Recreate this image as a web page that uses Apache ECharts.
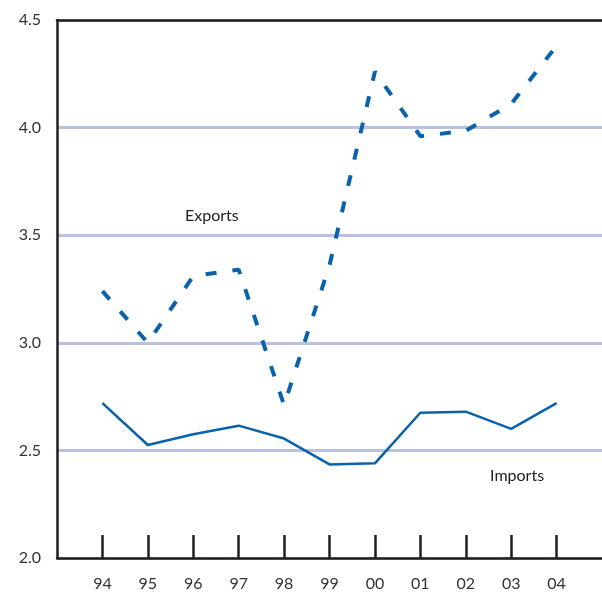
<!DOCTYPE html>
<html>
<head>
<meta charset="utf-8">
<script src="https://cdn.jsdelivr.net/npm/echarts@6/dist/echarts.min.js"></script>
<style>html,body{margin:0;padding:0;background:#fff}#c{width:602px;height:596px}</style>
</head>
<body>
<div id="c"></div>
<script>
const categories = ['94','95','96','97','98','99','00','01','02','03','04'];
const exportsVals = [3.24, 3.00, 3.31, 3.34, 2.71, 3.36, 4.26, 3.96, 3.985, 4.11, 4.38];
const importsVals = [2.72, 2.525, 2.575, 2.615, 2.555, 2.435, 2.44, 2.675, 2.68, 2.60, 2.72];
const yTicks = [2.0, 2.5, 3.0, 3.5, 4.0, 4.5];
const seriesLabels = {Exports: [3.41, 3.59], Imports: [10.13, 2.38]};

const lineColor = '#0a62ab';
const font = 'Lato';
const pairs = arr => arr.map((v, i) => [i + 1, v]);

const chart = echarts.init(document.getElementById('c'));
chart.setOption({
  animation: false,
  grid: {left: 57, right: 0, top: 20, bottom: 38, containLabel: false},
  xAxis: [{
    type: 'value', min: 0, max: categories.length + 1, interval: 1,
    axisLine: {show: true, lineStyle: {color: '#231f20', width: 2.5}},
    axisTick: {show: true, inside: true, length: 23,
      lineStyle: {color: '#231f20', width: 2.5},
      customValues: categories.map((c, i) => i + 1)},
    axisLabel: {show: true, margin: 18, color: '#333', fontFamily: font, fontSize: 16,
      customValues: categories.map((c, i) => i + 1),
      formatter: v => categories[v - 1] || ''},
    splitLine: {show: false}
  }, {
    type: 'value', position: 'top', min: 0, max: categories.length + 1,
    axisLine: {show: true, onZero: false, lineStyle: {color: '#231f20', width: 2.5}},
    axisTick: {show: false}, axisLabel: {show: false}, splitLine: {show: false}
  }],
  yAxis: {
    type: 'value', min: yTicks[0], max: yTicks[yTicks.length - 1], interval: 0.5,
    axisLine: {show: true, lineStyle: {color: '#231f20', width: 2.5}},
    axisTick: {show: false},
    axisLabel: {margin: 16, color: '#333', fontFamily: font, fontSize: 16,
      formatter: v => v.toFixed(1)},
    splitLine: {show: true, lineStyle: {color: '#b9c3e1', width: 3}}
  },
  series: [{
    name: 'Exports', type: 'line', data: pairs(exportsVals), symbol: 'none',
    lineStyle: {color: lineColor, width: 4, type: [11, 16]},
    markPoint: {symbol: 'circle', symbolSize: 0, silent: true,
      label: {show: true, position: 'inside', color: '#222', fontFamily: font, fontSize: 16,
        formatter: 'Exports'},
      data: [{coord: seriesLabels.Exports}]}
  }, {
    name: 'Imports', type: 'line', data: pairs(importsVals), symbol: 'none',
    lineStyle: {color: lineColor, width: 2.5},
    markPoint: {symbol: 'circle', symbolSize: 0, silent: true,
      label: {show: true, position: 'inside', color: '#222', fontFamily: font, fontSize: 16,
        formatter: 'Imports'},
      data: [{coord: seriesLabels.Imports}]}
  }]
});
</script>
</body>
</html>
